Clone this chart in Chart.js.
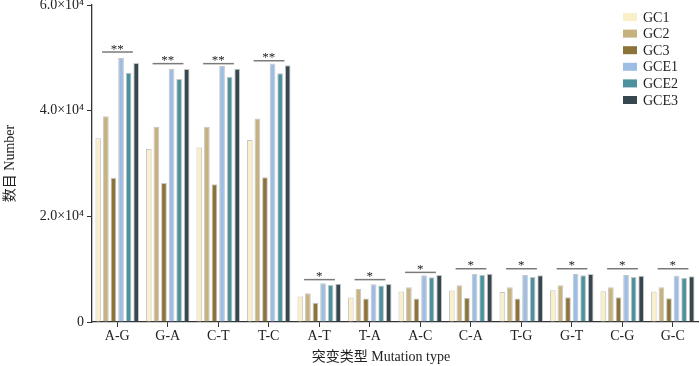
<!DOCTYPE html>
<html>
<head>
<meta charset="utf-8">
<script src="https://cdn.jsdelivr.net/npm/chart.js@4/dist/chart.umd.min.js"></script>
<style>
  html, body { margin: 0; padding: 0; background: #fff; }
  #wrap { width: 700px; height: 366px; }
</style>
</head>
<body>
<div id="wrap"><canvas id="chart" width="700" height="366"></canvas></div>
<script>
// Données
const categories = ["A-G", "G-A", "C-T", "T-C", "A-T", "T-A", "A-C", "C-A", "T-G", "G-T", "C-G", "G-C"];
const seriesNames = ["GC1", "GC2", "GC3", "GCE1", "GCE2", "GCE3"];
const gc1 = [34800, 32750, 33050, 34450, 4820, 4630, 5760, 5950, 5700, 6010, 5820, 5760];
const gc2 = [38950, 36950, 36950, 38500, 5450, 6260, 6570, 6950, 6570, 6950, 6570, 6570];
const gc3 = [27300, 26300, 26050, 27400, 3630, 4440, 4440, 4570, 4440, 4700, 4700, 4510];
const gce1 = [49950, 47950, 48450, 48950, 7320, 7140, 8830, 9140, 8890, 9070, 8890, 8770];
const gce2 = [47200, 46000, 46400, 47100, 7010, 6890, 8450, 8950, 8510, 8830, 8510, 8390];
const gce3 = [49000, 47900, 47950, 48600, 7260, 7200, 8890, 9140, 8830, 9070, 8770, 8640];
const sigMarks = ["**", "**", "**", "**", "*", "*", "*", "*", "*", "*", "*", "*"];
const sigLevels = [51100, 48900, 48900, 49450, 8020, 8020, 9390, 10080, 10080, 10080, 10080, 10080];
const yTickLabels = { 0: "0", 20000: "2.0×10⁴", 40000: "4.0×10⁴", 60000: "6.0×10⁴" };
const xTitle = "突变类型 Mutation type";
const colors = ["#f9efc8", "#c6b27f", "#8b7339", "#9dbde3", "#4b929e", "#37474f"];

const serif = "'Liberation Serif', 'Times New Roman', 'Noto Sans CJK SC', serif";
const axisColor = "#333";

const significancePlugin = {
  id: "significance",
  afterDatasetsDraw(chart) {
    const { ctx, scales } = chart;
    const x = scales.x, y = scales.y;
    const catW = x.width / categories.length;
    ctx.save();
    categories.forEach((_, i) => {
      const cx = x.getPixelForValue(i);
      const ly = y.getPixelForValue(sigLevels[i]);
      ctx.strokeStyle = "#7a7a7a";
      ctx.lineWidth = 1.5;
      ctx.beginPath();
      ctx.moveTo(cx - catW * 0.3, ly);
      ctx.lineTo(cx + catW * 0.31, ly);
      ctx.stroke();
      ctx.fillStyle = "#222";
      ctx.font = "13px " + serif;
      ctx.textAlign = "center";
      ctx.textBaseline = "alphabetic";
      ctx.fillText(sigMarks[i], cx, ly + 0.5);
    });
    ctx.restore();
  },
};

// légende et titre de l'axe x dessinés à la main
const extrasPlugin = {
  id: "extras",
  afterDraw(chart) {
    const { ctx } = chart;
    ctx.save();
    chart.data.datasets.forEach((ds, i) => {
      const cy = 17 + i * 16.6;
      ctx.fillStyle = ds.backgroundColor;
      ctx.fillRect(623, cy - 4, 14, 8);
      ctx.fillStyle = "#222";
      ctx.font = "14px " + serif;
      ctx.textAlign = "left";
      ctx.textBaseline = "middle";
      ctx.fillText(ds.label, 643, cy + 1);
    });
    ctx.fillStyle = "#222";
    ctx.font = "14px " + serif;
    ctx.textAlign = "center";
    ctx.textBaseline = "middle";
    ctx.fillText(xTitle, 381, 357);
    ctx.restore();
  },
};

const allSeries = [gc1, gc2, gc3, gce1, gce2, gce3];

new Chart(document.getElementById("chart").getContext("2d"), {
  type: "bar",
  data: {
    labels: categories,
    datasets: allSeries.map((values, i) => ({
      label: seriesNames[i],
      data: values,
      backgroundColor: colors[i],
      borderColor: "rgba(160,160,160,0.6)",
      borderWidth: 1,
      categoryPercentage: 0.9,
      barPercentage: 0.75,
    })),
  },
  options: {
    responsive: false,
    animation: false,
    layout: { padding: { top: 5, right: 2, left: 0, bottom: 0 } },
    plugins: { legend: { display: false }, tooltip: { enabled: false } },
    scales: {
      x: {
        afterFit(scale) {
          scale.height = 44;
          scale.paddingLeft = 0;
          scale.paddingRight = 0;
        },
        grid: { display: true, drawOnChartArea: false, offset: false, tickLength: 5, color: axisColor, lineWidth: 1 },
        border: { display: true, color: axisColor, width: 1.3 },
        ticks: { color: "#222", font: { family: serif, size: 14 }, padding: 1 },
      },
      y: {
        min: 0,
        max: 60000,
        afterFit(scale) {
          scale.width = 92;
          scale.paddingTop = 0;
          scale.paddingBottom = 0;
        },
        afterBuildTicks(scale) {
          scale.ticks = Object.keys(yTickLabels).map((v) => ({ value: Number(v) }));
        },
        grid: { display: true, drawOnChartArea: false, tickLength: 5, color: axisColor, lineWidth: 1 },
        border: { display: true, color: axisColor, width: 1.3 },
        ticks: {
          color: "#222",
          font: { family: serif, size: 14 },
          padding: 3,
          callback: (v) => yTickLabels[v],
        },
        title: {
          display: true,
          text: "数目 Number",
          color: "#222",
          font: { family: serif, size: 14 },
          padding: { top: 2, bottom: 0 },
        },
      },
    },
  },
  plugins: [significancePlugin, extrasPlugin],
});
</script>
</body>
</html>
